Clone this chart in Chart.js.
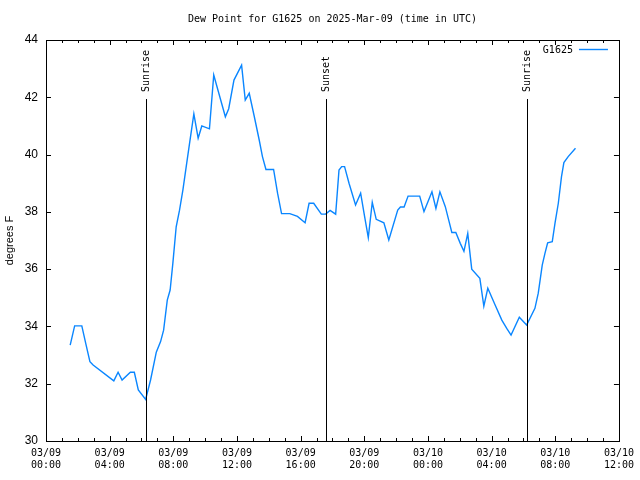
<!DOCTYPE html>
<html>
<head>
<meta charset="utf-8">
<script src="https://cdn.jsdelivr.net/npm/chart.js@4"></script>
<style>
  body { margin: 0; background: #fff; }
  canvas { display: block; }
</style>
</head>
<body>
<canvas id="dewpoint" width="640" height="480"></canvas>
<script>
// hours since 03/09 00:00 UTC
var hours = [1.52, 1.8, 2.25, 2.5, 2.76, 2.96, 4.26, 4.53, 4.78, 5.3, 5.55, 5.8, 6.26, 6.57, 6.93, 7.2,
  7.39, 7.62, 7.8, 7.97, 8.18, 8.39, 8.6, 8.81, 9.02, 9.29, 9.56, 9.79, 10.27, 10.54, 11.27, 11.48,
  11.81, 12.29, 12.52, 12.77, 13.09, 13.4, 13.6, 13.82, 14.3, 14.55, 14.8, 15.32, 15.8, 16.28, 16.53,
  16.82, 17.3, 17.57, 17.85, 18.2, 18.41, 18.58, 18.76, 19.04, 19.45, 19.77, 20.02, 20.25, 20.5, 20.75,
  21.23, 21.54, 22.1, 22.27, 22.5, 22.75, 23.48, 23.75, 24.25, 24.5, 24.75, 25.09, 25.3, 25.5, 25.75,
  26.03, 26.26, 26.5, 26.75, 27.26, 27.51, 27.76, 28.22, 28.64, 28.95, 29.22, 29.74, 30.2, 30.72,
  30.93, 31.18, 31.35, 31.52, 31.81, 31.98, 32.19, 32.39, 32.54, 32.81, 33.27]
var dewF = [33.35, 34.02, 34.02, 33.4, 32.77, 32.65, 32.1, 32.4, 32.13, 32.4, 32.4, 31.78, 31.45, 32.13, 33.1, 33.47,
  33.87, 34.92, 35.27, 36.2, 37.48, 38.06, 38.76, 39.58, 40.39, 41.42, 40.57, 41.0, 40.9, 42.78, 41.32, 41.6,
  42.6, 43.12, 41.9, 42.14, 41.32, 40.5, 39.93, 39.48, 39.48, 38.65, 37.94, 37.94, 37.84, 37.62, 38.3,
  38.3, 37.92, 37.92, 38.05, 37.92, 39.46, 39.58, 39.58, 39.0, 38.24, 38.65, 37.83, 37.1, 38.33, 37.74,
  37.62, 37.02, 38.06, 38.17, 38.17, 38.55, 38.55, 38.01, 38.7, 38.12, 38.7, 38.18, 37.72, 37.28, 37.28,
  36.9, 36.62, 37.25, 36.0, 35.68, 34.71, 35.33, 34.75, 34.22, 33.93, 33.7, 34.32, 34.05, 34.63,
  35.16, 36.14, 36.55, 36.92, 36.96, 37.6, 38.3, 39.23, 39.72, 39.93, 40.22]

var sunHours = [6.26, 17.57, 30.2]
var sunLabels = ['Sunrise', 'Sunset', 'Sunrise']
var yTicks = [30, 32, 34, 36, 38, 40, 42, 44]

var mono = '"DejaVu Sans Mono", monospace'
var sans = '"Liberation Sans", Arial, sans-serif'

function pad2(n) { return (n < 10 ? '0' : '') + n }

function tickLabel(v) {
  var day = 9 + Math.floor(v / 24)
  var h = v % 24
  return ['03/' + pad2(day), pad2(h) + ':00']
}

var gnuplotLook = {
  id: 'gnuplotLook',
  afterDatasetsDraw(chart) {
    var c = chart.ctx
    var a = chart.chartArea
    var x = chart.scales.x
    var y = chart.scales.y
    c.save()
    c.strokeStyle = '#000'
    c.lineWidth = 1

    // sunrise / sunset markers
    c.font = '10px ' + mono
    c.fillStyle = '#000'
    for (var i = 0; i < sunHours.length; i++) {
      var sx = Math.round(x.getPixelForValue(sunHours[i])) + 0.5
      c.beginPath()
      c.moveTo(sx, a.top + 59)
      c.lineTo(sx, a.bottom)
      c.stroke()
      c.save()
      c.translate(sx, a.top + 52)
      c.rotate(-Math.PI / 2)
      c.textAlign = 'left'
      c.textBaseline = 'middle'
      c.fillText(sunLabels[i], 0, 0)
      c.restore()
    }

    // inward ticks on all four sides
    c.beginPath()
    for (var h = x.min; h <= x.max; h++) {
      var px = Math.round(x.getPixelForValue(h)) + 0.5
      var len = h % 4 === 0 ? 5 : 3
      c.moveTo(px, a.bottom); c.lineTo(px, a.bottom - len)
      c.moveTo(px, a.top); c.lineTo(px, a.top + len)
    }
    yTicks.forEach(function (v) {
      var py = Math.round(y.getPixelForValue(v)) + 0.5
      c.moveTo(a.left, py); c.lineTo(a.left + 5, py)
      c.moveTo(a.right, py); c.lineTo(a.right - 5, py)
    })
    c.stroke()

    // frame
    c.strokeRect(Math.round(a.left) + 0.5, Math.round(a.top) + 0.5,
      Math.round(a.right - a.left), Math.round(a.bottom - a.top))

    // title, centred on the plot
    c.font = '10px ' + mono
    c.textAlign = 'center'
    c.textBaseline = 'middle'
    c.fillText('Dew Point for G1625 on 2025-Mar-09 (time in UTC)', (a.left + a.right) / 2, 19)

    // key
    var ds = chart.data.datasets[0]
    c.textAlign = 'right'
    c.fillText(ds.label, a.right - 46, 50)
    c.strokeStyle = ds.borderColor
    c.lineWidth = ds.borderWidth
    c.beginPath()
    c.moveTo(a.right - 40, 49.5)
    c.lineTo(a.right - 11, 49.5)
    c.stroke()
    c.restore()
  }
}

new Chart(document.getElementById('dewpoint'), {
  type: 'line',
  data: {
    datasets: [{
      label: 'G1625',
      data: hours.map(function (h, i) { return { x: h, y: dewF[i] } }),
      borderColor: '#0a86ff',
      borderWidth: 1.4,
      pointRadius: 0,
      tension: 0,
      fill: false
    }]
  },
  options: {
    responsive: false,
    animation: false,
    layout: { padding: { top: 40, right: 19, left: 0, bottom: 0 } },
    plugins: {
      legend: { display: false },
      title: { display: false },
      tooltip: { enabled: false }
    },
    scales: {
      x: {
        type: 'linear',
        min: 0,
        max: 36,
        afterFit: function (s) { s.height = 39 },
        border: { display: false },
        grid: { display: false, drawTicks: false },
        ticks: {
          stepSize: 4,
          autoSkip: false,
          maxRotation: 0,
          padding: 6,
          color: '#000',
          font: { family: mono, size: 10, lineHeight: 1.2 },
          callback: tickLabel
        }
      },
      y: {
        min: 30,
        max: 44,
        afterFit: function (s) { s.width = 46 },
        border: { display: false },
        grid: { display: false, drawTicks: false },
        ticks: {
          stepSize: 2,
          padding: 8,
          color: '#000',
          font: { family: sans, size: 12 }
        },
        title: {
          display: true,
          text: 'degrees F',
          color: '#000',
          padding: { top: 3, bottom: 0 },
          font: { family: sans, size: 11 }
        }
      }
    }
  },
  plugins: [gnuplotLook]
})
</script>
</body>
</html>
